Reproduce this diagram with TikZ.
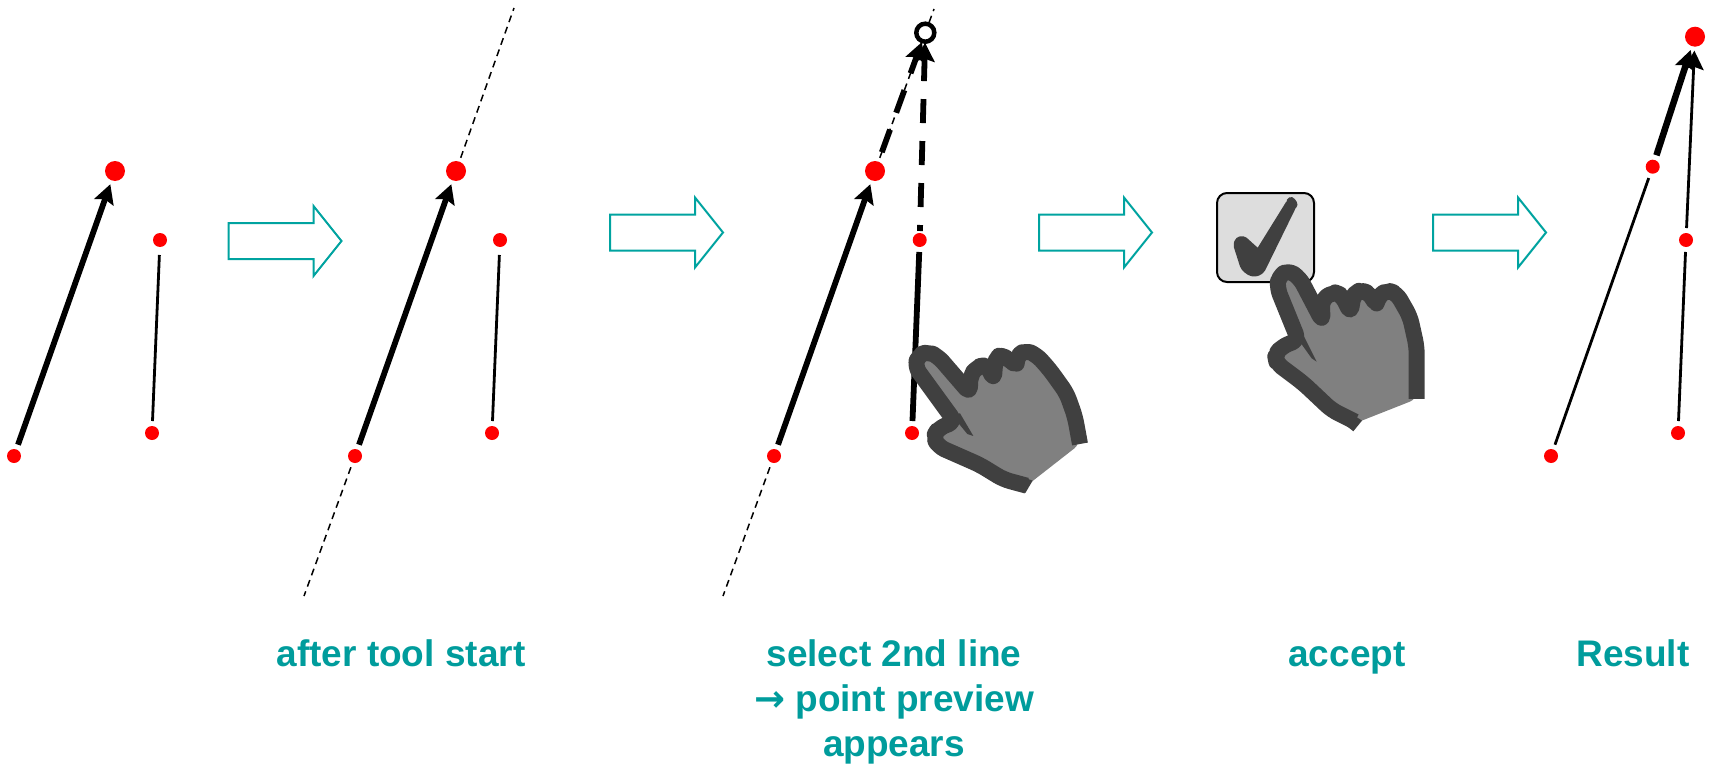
\documentclass[tikz,border=0pt]{standalone}
\usepackage{fontspec}
\setmainfont{Liberation Sans}
\newfontfamily\arrowfont{DejaVu Sans}
\usetikzlibrary{arrows.meta}
\definecolor{tealc}{HTML}{009C9C}
\definecolor{tealb}{HTML}{00A3A0}
\definecolor{handdark}{HTML}{404040}
\definecolor{handfill}{HTML}{808080}
\definecolor{boxfill}{HTML}{DDDDDD}
\tikzset{
  bigdot/.style={circle,fill=red,inner sep=0pt,minimum size=20pt,outer sep=4pt},
  smalldot/.style={circle,fill=red,inner sep=0pt,minimum size=14pt,outer sep=5pt},
  prevdot/.style={circle,draw=black,line width=4.5pt,fill=white,inner sep=0pt,minimum size=18pt,outer sep=2pt},
  thickline/.style={line width=5.8pt},
  thinline/.style={line width=2.8pt},
  tipped/.style={-{Stealth[length=19pt,width=20pt,inset=3pt]}},
  extline/.style={line width=1.5pt,dash pattern=on 7pt off 5pt},
  previewline/.style={line width=5.8pt,dash pattern=on 24pt off 18pt},
  blockarrow/.style={draw=tealb,line width=2pt,fill=white,line join=miter},
  caption/.style={text=tealc,font=\bfseries\fontsize{37}{45}\selectfont,align=center,anchor=center,inner sep=0pt},
  singlecap/.style={caption,text height=27pt,text depth=8pt},
  handout/.style={draw=handdark,line width=16pt,line join=round,line cap=butt,rounded corners=7pt},
  handin/.style={fill=handfill,rounded corners=7pt}
}
\begin{document}
\begin{tikzpicture}[x=1pt,y=-1pt]
\useasboundingbox (0,0) rectangle (1715,765);

% block arrows
\foreach \ax/\ay in {228.5/241, 610/232.5, 1039/232.5, 1433/232.5}{
  \draw[blockarrow,shift={(\ax,\ay)}] (0,-18) -- (85,-18) -- (85,-35) -- (113,0) -- (85,35) -- (85,18) -- (0,18) -- cycle;
}

% panel 1
\node[bigdot] (a1) at (115,171) {};
\node[smalldot] (a2) at (14,456) {};
\node[smalldot] (a3) at (160,240) {};
\node[smalldot] (a4) at (152,433) {};
\draw[thickline,tipped] (a2) -- (a1);
\draw[thinline,shorten >=3pt] (a4) -- (a3);

% panel 2
\coordinate (bt) at (514,8);
\coordinate (bb) at (304,596);
\node[bigdot] (b1) at (456,171) {};
\node[smalldot] (b2) at (355,456) {};
\node[smalldot] (b3) at (500,240) {};
\node[smalldot] (b4) at (492,433) {};
\draw[thickline,tipped] (b2) -- (b1);
\draw[thinline,shorten >=3pt] (b4) -- (b3);
\draw[extline] (b1) -- (bt);
\draw[extline] (b2) -- (bb);

% panel 3
\coordinate (ct) at (934,9);
\coordinate (cb) at (723,596);
\node[bigdot] (c1) at (875,171) {};
\node[smalldot] (c2) at (774,456) {};
\node[smalldot] (c3) at (919.7,240) {};
\node[smalldot] (c4) at (912,433) {};
\node[prevdot] (c5) at (925.3,32.7) {};
\draw[extline] (c1) -- (c5);
\draw[extline] (c5) -- (ct);
\draw[extline] (c2) -- (cb);
\draw[thickline,tipped] (c2) -- (c1);
\draw[line width=5.8pt] (c4) -- (c3);
\draw[previewline,dash phase=36pt,tipped,shorten >=-1pt] (c1) -- (c5);
\draw[previewline,dash phase=18pt,tipped,shorten >=-1pt,shorten <=-3pt] (c3) -- (c5);

% hand of panel 3
\begin{scope}[shift={(880,320)},x=0.3333pt,y=-0.3333pt]
  \path[handin] (440,497) -- (370,478) -- (300,435) -- (175,380) -- (160,350) -- (175,325) -- (225,305) -- (105,140) -- (115,105) -- (145,95) -- (175,110) -- (270,220) -- (270,170) -- (290,140) -- (320,135) -- (342,180) -- (345,125) -- (358,105) -- (385,115) -- (410,140) -- (410,110) -- (435,90) -- (470,105) -- (510,150) -- (560,220) -- (585,290) -- (600,372) -- cycle;
  \draw[handout] (440,497) -- (370,478) -- (300,435) -- (175,380) -- (160,350) -- (175,325) -- (225,305) -- (105,140) -- (115,105) -- (145,95) -- (175,110) -- (270,220) -- (270,170) -- (290,140) -- (320,135) -- (342,180) -- (345,125) -- (358,105) -- (385,115) -- (410,140) -- (410,110) -- (435,90) -- (470,105) -- (510,150) -- (560,220) -- (585,290) -- (600,372);
  \fill[handdark] (215,285) -- (240,280) -- (280,348) -- (262,342) -- cycle;
  \fill[handdark] (425,470) -- (458,482) -- (436,519) -- (400,495) -- cycle;
\end{scope}

% accept button
\draw[fill=boxfill,draw=black,line width=2pt,rounded corners=10pt] (1217,193) rectangle (1314,282);
\begin{scope}[shift={(1200,180)},x=0.3333pt,y=-0.3333pt]
  \filldraw[draw=handdark,fill=handdark,line width=9pt,line join=round,rounded corners=3pt] (112,190) -- (125,178) -- (176,224) -- (274,66) -- (278,72) -- (180,272) -- (158,278) -- (135,262) -- cycle;
  \path[handin] (465,730) -- (395,690) -- (310,610) -- (230,550) -- (225,525) -- (245,500) -- (295,480) -- (232,325) -- (235,290) -- (265,270) -- (300,295) -- (368,425) -- (365,360) -- (400,335) -- (425,345) -- (452,400) -- (460,345) -- (480,330) -- (510,340) -- (528,378) -- (535,350) -- (560,330) -- (590,340) -- (630,410) -- (650,500) -- (650,657) -- cycle;
  \draw[handout] (465,725) -- (395,690) -- (310,610) -- (230,550) -- (225,525) -- (245,500) -- (295,480) -- (232,325) -- (235,290) -- (265,270) -- (300,295) -- (368,425) -- (365,360) -- (400,335) -- (425,345) -- (452,400) -- (460,345) -- (480,330) -- (510,340) -- (528,378) -- (535,350) -- (560,330) -- (590,340) -- (630,410) -- (650,500) -- (650,657);
  \fill[handdark] (285,465) -- (310,465) -- (350,545) -- (335,535) -- cycle;
  \fill[handdark] (445,695) -- (486,722) -- (460,754) -- (420,722) -- cycle;
\end{scope}

% panel 4
\node[bigdot] (d1) at (1695,36.7) {};
\node[smalldot] (d2) at (1652.7,166.7) {};
\node[smalldot] (d3) at (1686,240) {};
\node[smalldot] (d4) at (1678,433) {};
\node[smalldot] (d5) at (1551,456) {};
\draw[thinline] (d5) -- (d2);
\draw[thinline] (d4) -- (d3);
\draw[thinline,tipped] (d3) -- (d1);
\draw[line width=6.5pt,tipped] (d2) -- (d1);

% captions
\node[singlecap] (t1) at (401,657) {after tool start};
\node[caption] (t2) at (894,701.5) {select 2nd line\\{\arrowfont →} point preview\\appears};
\node[singlecap] (t3) at (1347,657) {accept};
\node[singlecap] (t4) at (1633,657) {Result};
\end{tikzpicture}
\end{document}
